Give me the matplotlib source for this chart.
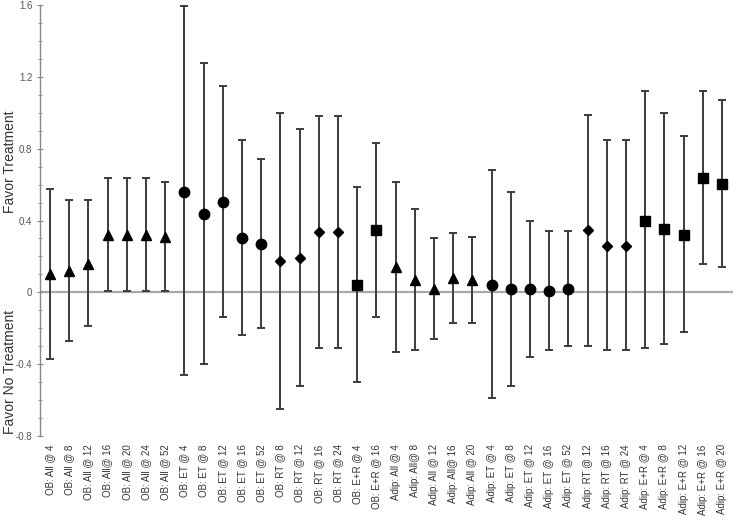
import matplotlib
matplotlib.use("Agg")
import matplotlib.pyplot as plt
from matplotlib.ticker import MultipleLocator, FixedLocator
import numpy as np

labels = ["OB: All @ 4", "OB: All @ 8", "OB: All @ 12", "OB: All@ 16", "OB: All @ 20",
          "OB: All @ 24", "OB: All @ 52", "OB: ET @ 4", "OB: ET @ 8", "OB: ET @ 12",
          "OB: ET @ 16", "OB: ET @ 52", "OB: RT @ 8", "OB: RT @ 12", "OB: RT @ 16",
          "OB: RT @ 24", "OB: E+R @ 4", "OB: E+R @ 16", "Adip: All @ 4", "Adip: All@ 8",
          "Adip: All @ 12", "Adip: All@ 16", "Adip: All @ 20", "Adip: ET @ 4", "Adip: ET @ 8",
          "Adip: ET @ 12", "Adip: ET @ 16", "Adip: ET @ 52", "Adip: RT @ 12", "Adip: RT @ 16",
          "Adip: RT @ 24", "Adip: E+R @ 4", "Adip: E+R @ 8", "Adip: E+R @ 12", "Adip: E+R @ 16",
          "Adip: E+R @ 20"]

groups = ["All"] * 7 + ["ET"] * 5 + ["RT"] * 4 + ["E+R"] * 2 + ["All"] * 5 + ["ET"] * 5 + ["RT"] * 3 + ["E+R"] * 5

effect = [0.10, 0.12, 0.16, 0.32, 0.32, 0.32, 0.31,
          0.56, 0.435, 0.505, 0.30, 0.27,
          0.173, 0.19, 0.334, 0.334,
          0.04, 0.345,
          0.14, 0.067, 0.02, 0.08, 0.07,
          0.04, 0.02, 0.02, 0.01, 0.02,
          0.345, 0.26, 0.26,
          0.40, 0.35, 0.32, 0.636, 0.606]

upper = [0.574, 0.513, 0.513, 0.634, 0.634, 0.634, 0.615,
         1.596, 1.275, 1.15, 0.85, 0.744,
         1.0, 0.91, 0.98, 0.98,
         0.586, 0.83,
         0.617, 0.464, 0.30, 0.33, 0.31,
         0.68, 0.56, 0.40, 0.34, 0.34,
         0.99, 0.85, 0.85,
         1.12, 1.0, 0.87, 1.12, 1.07]

lower = [-0.373, -0.27, -0.19, 0.01, 0.01, 0.01, 0.01,
         -0.46, -0.40, -0.14, -0.24, -0.20,
         -0.65, -0.52, -0.31, -0.31,
         -0.50, -0.14,
         -0.33, -0.32, -0.26, -0.17, -0.17,
         -0.59, -0.52, -0.36, -0.32, -0.30,
         -0.30, -0.32, -0.32,
         -0.31, -0.29, -0.22, 0.155, 0.14]

marker_for = {"All": ("^", 7.5), "ET": ("o", 7.5), "RT": ("D", 5.2), "E+R": ("s", 6.8)}

fig = plt.figure(figsize=(7.39, 5.22), dpi=100)
ax = fig.add_axes([40 / 739, 1 - 436 / 522, (733 - 40) / 739, (436 - 5) / 522])

x = np.arange(len(labels))
ax.axhline(0, color="#a8a8a8", lw=1.6, zorder=1)

for xi, e, lo, hi, g in zip(x, effect, lower, upper, groups):
    m, ms = marker_for[g]
    ax.errorbar([xi], [e], yerr=[[e - lo], [hi - e]], fmt="none", ecolor="#3c3c3c",
                elinewidth=1.4, capsize=3, capthick=1.4, zorder=2)
    ax.plot([xi], [e], marker=m, ms=ms, color="black", ls="none", zorder=3)

ax.set_xlim(-0.52, 35.57)
ax.set_ylim(-0.8, 1.6)

for side in ("top", "right", "bottom"):
    ax.spines[side].set_visible(False)
ax.spines["left"].set_color("#888888")
ax.spines["left"].set_linewidth(1.0)

ax.yaxis.set_major_locator(FixedLocator([-0.8, -0.4, 0, 0.4, 0.8, 1.2, 1.6]))
ax.yaxis.set_minor_locator(MultipleLocator(0.1))
ax.set_yticklabels(["-0.8", "-0.4", "0", "0.4", "0.8", "1.2", "1.6"])
ax.tick_params(axis="y", which="major", length=5, width=0.8, color="#888888",
               labelsize=7, labelcolor="#555555", direction="inout", pad=3)
ax.tick_params(axis="y", which="minor", length=3, width=0.6, color="#888888", direction="inout")

ax.set_xticks(x)
ax.set_xticklabels(labels, rotation=90, fontsize=7, color="#333333", family="Liberation Sans")
ax.tick_params(axis="x", length=0, pad=6)
for t in ax.get_yticklabels():
    t.set_family("Liberation Sans")

fig.text(10 / 739, 1 - 162 / 522, "Favor Treatment", rotation=90, ha="center", va="center",
         fontsize=10, color="#333333", family="Liberation Sans")
fig.text(10 / 739, 1 - 372 / 522, "Favor No Treatment", rotation=90, ha="center", va="center",
         fontsize=10, color="#333333", family="Liberation Sans")

fig.savefig("out.png", dpi=100, facecolor="white")
